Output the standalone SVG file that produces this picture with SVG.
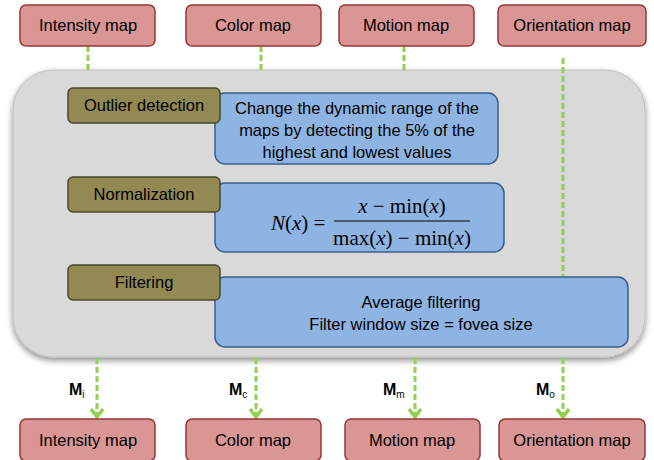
<svg xmlns="http://www.w3.org/2000/svg" width="654" height="460" viewBox="0 0 654 460">
<defs>
<style>
.map{fill:#D99694;stroke:#953735;stroke-width:1.5}
.step{fill:#938953;stroke:#4A452A;stroke-width:1.5}
.desc{fill:#8EB4E3;stroke:#385D8A;stroke-width:1.5}
.lbl{font-family:"Liberation Sans",Arial,sans-serif;font-size:16.5px;fill:#000;text-anchor:middle}
.math{font-family:"Liberation Serif","Times New Roman",serif;font-size:21px;fill:#000}
.ml{font-family:"Liberation Sans",Arial,sans-serif;font-size:16px;font-weight:bold;fill:#000}
.sub{font-size:10px;font-weight:normal}
.dash{stroke:#92D050;stroke-width:3;stroke-dasharray:6,3;fill:none}
</style>
<marker id="ah" markerWidth="12" markerHeight="16" refX="10" refY="8" orient="auto" markerUnits="userSpaceOnUse" viewBox="0 0 12 16">
<path d="M2,2 L10,8 L2,14" fill="none" stroke="#92D050" stroke-width="3.5"/>
</marker>
<filter id="sh" x="-5%" y="-5%" width="110%" height="115%">
<feGaussianBlur in="SourceAlpha" stdDeviation="3"/>
<feOffset dx="0" dy="3" result="b"/>
<feComponentTransfer><feFuncA type="linear" slope="0.45"/></feComponentTransfer>
<feMerge><feMergeNode/><feMergeNode in="SourceGraphic"/></feMerge>
</filter>
</defs>
<rect width="654" height="460" fill="#fff"/>

<g id="panel">
<rect x="13" y="70" width="632" height="287" rx="40" ry="40" fill="#D9D9D9" stroke="#BFBFBF" stroke-width="1" filter="url(#sh)"/>
</g>

<g id="connectors">
<line class="dash" x1="88" y1="46" x2="88" y2="70"/>
<line class="dash" x1="261" y1="46" x2="261" y2="70"/>
<line class="dash" x1="404" y1="46" x2="404" y2="70"/>
<line class="dash" x1="563" y1="58" x2="563" y2="277"/>
<line class="dash" x1="97" y1="358" x2="97" y2="417" marker-end="url(#ah)"/>
<line class="dash" x1="256" y1="358" x2="256" y2="417" marker-end="url(#ah)"/>
<line class="dash" x1="415" y1="358" x2="415" y2="417" marker-end="url(#ah)"/>
<line class="dash" x1="563" y1="358" x2="563" y2="417" marker-end="url(#ah)"/>
<text class="ml" x="69" y="395">M<tspan class="sub" dy="3">i</tspan></text>
<text class="ml" x="229" y="395">M<tspan class="sub" dy="3">c</tspan></text>
<text class="ml" x="383" y="395">M<tspan class="sub" dy="3">m</tspan></text>
<text class="ml" x="536" y="395">M<tspan class="sub" dy="3">o</tspan></text>
</g>

<g id="top-intensity"><rect class="map" x="20" y="5" width="135" height="41" rx="6"/><text class="lbl" x="88" y="31">Intensity map</text></g>
<g id="top-color"><rect class="map" x="186" y="5" width="135" height="41" rx="6"/><text class="lbl" x="253" y="31">Color map</text></g>
<g id="top-motion"><rect class="map" x="339" y="5" width="135" height="41" rx="6"/><text class="lbl" x="406" y="31">Motion map</text></g>
<g id="top-orientation"><rect class="map" x="498" y="5" width="148" height="41" rx="6"/><text class="lbl" x="572" y="31">Orientation map</text></g>

<g id="desc-outlier"><rect class="desc" x="215" y="93" width="283" height="71" rx="10"/>
<text class="lbl" x="357" y="114">Change the dynamic range of the</text>
<text class="lbl" x="357" y="136">maps by detecting the 5% of the</text>
<text class="lbl" x="357" y="158">highest and lowest values</text></g>
<g id="step-outlier"><rect class="step" x="68" y="88" width="152" height="35" rx="5"/><text class="lbl" x="144" y="111">Outlier detection</text></g>

<g id="desc-normalization"><rect class="desc" x="215" y="183" width="289" height="69" rx="10"/>
<text class="math" x="271" y="230"><tspan font-style="italic">N</tspan>(<tspan font-style="italic">x</tspan>) =</text>
<text class="math" x="402" y="213" text-anchor="middle"><tspan font-style="italic">x</tspan> − min(<tspan font-style="italic">x</tspan>)</text>
<line x1="334" y1="221" x2="470" y2="221" stroke="#000" stroke-width="1"/>
<text class="math" x="402" y="245" text-anchor="middle">max(<tspan font-style="italic">x</tspan>) − min(<tspan font-style="italic">x</tspan>)</text></g>
<g id="step-normalization"><rect class="step" x="68" y="177" width="152" height="35" rx="5"/><text class="lbl" x="144" y="200">Normalization</text></g>

<g id="desc-filtering"><rect class="desc" x="215" y="277" width="413" height="70" rx="10"/>
<text class="lbl" x="421" y="308">Average filtering</text>
<text class="lbl" x="421" y="330">Filter window size = fovea size</text></g>
<g id="step-filtering"><rect class="step" x="68" y="265" width="152" height="35" rx="5"/><text class="lbl" x="144" y="288">Filtering</text></g>

<g id="bot-intensity"><rect class="map" x="20" y="419" width="135" height="42" rx="6"/><text class="lbl" x="88" y="446">Intensity map</text></g>
<g id="bot-color"><rect class="map" x="186" y="419" width="135" height="42" rx="6"/><text class="lbl" x="253" y="446">Color map</text></g>
<g id="bot-motion"><rect class="map" x="345" y="419" width="135" height="42" rx="6"/><text class="lbl" x="412" y="446">Motion map</text></g>
<g id="bot-orientation"><rect class="map" x="499" y="419" width="146" height="42" rx="6"/><text class="lbl" x="572" y="446">Orientation map</text></g>
</svg>
